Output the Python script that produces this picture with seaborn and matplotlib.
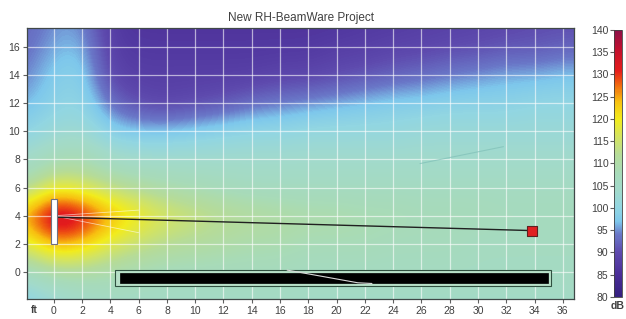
import numpy as np
import pandas as pd
import seaborn as sns
import matplotlib.pyplot as plt
from matplotlib.colors import LinearSegmentedColormap
from matplotlib.patches import Rectangle

# grid positions (ft)
x_ft = [-2, 0, 2, 4, 6, 8, 10, 12, 14, 16, 18, 20, 22, 24, 26, 28, 30, 32, 34, 36]
y_ft = [-2, 0, 2, 4, 6, 8, 10, 12, 14, 16, 18]

# SPL (dB), one row per y value
spl_y_m2 = [98, 102, 104, 105, 105, 105, 105, 105, 105, 105, 105, 105, 105, 105, 105, 105, 105, 105, 105, 105]
spl_y0 = [106, 110, 110, 109, 108, 107, 107, 107, 107, 107, 106, 106, 106, 106, 106, 106, 106, 106, 106, 106]
spl_y2 = [117, 125, 123, 117, 114, 112, 111, 110, 109, 109, 108, 108, 108, 107, 107, 107, 106, 106, 106, 106]
spl_y4 = [126, 139, 135, 126, 121, 117, 115, 113, 112, 111, 110, 110, 109, 109, 108, 108, 108, 107, 107, 107]
spl_y6 = [110, 118, 116, 113, 111, 109, 108, 107, 106, 106, 106, 106, 106, 106, 106, 106, 106, 106, 106, 106]
spl_y8 = [104, 108, 109, 105, 104, 104, 104, 104, 104, 104, 104, 104, 104, 104, 104, 104, 104, 104, 104, 104]
spl_y10 = [99, 102, 103, 98, 97, 97, 98, 99, 100, 100, 101, 101, 101, 101, 102, 102, 102, 102, 102, 102]
spl_y12 = [96, 99, 100, 93, 90, 89, 90, 91, 93, 94, 95, 96, 97, 98, 98, 99, 99, 99, 100, 100]
spl_y14 = [94, 98, 99, 89, 88, 88, 88, 88, 88, 89, 89, 90, 91, 92, 93, 94, 95, 96, 96, 97]
spl_y16 = [93, 96, 97, 88, 87, 87, 87, 87, 87, 87, 87, 88, 88, 89, 89, 90, 90, 91, 91, 92]
spl_y18 = [92, 95, 95, 87, 86, 86, 86, 86, 86, 86, 86, 86, 87, 87, 88, 88, 89, 89, 90, 90]

# colour scale of the legend bar
cbar_db = [80, 85, 90, 94, 97, 100, 104, 108, 112, 116, 120, 124, 128, 131, 136, 140]
cbar_colors = ["#35207f", "#4b2e98", "#5e4aae", "#6a78c8", "#7ec8ec", "#92d6e2",
               "#a2dacb", "#a8dbb8", "#b6dc98", "#d4e460", "#f2ec1c", "#f8c010",
               "#f06010", "#e41c1c", "#c01030", "#8c1048"]
cbar_ticks = [80, 85, 90, 95, 100, 105, 110, 115, 120, 125, 130, 135, 140]

# speaker -> mic aim line and mic position
aim_x = [0.2, 33.8]
aim_y = [3.9, 2.95]
mic_x = [33.8]
mic_y = [2.95]

x_ticks = list(range(0, 37, 2))
y_ticks = list(range(0, 17, 2))

sns.set_style("white")
plt.rcParams['font.family'] = ['Liberation Sans', 'DejaVu Sans']
txt = "#404040"

spl = np.array([spl_y_m2, spl_y0, spl_y2, spl_y4, spl_y6, spl_y8,
                spl_y10, spl_y12, spl_y14, spl_y16, spl_y18])

cmap = LinearSegmentedColormap.from_list(
    "beam", [((d - 80) / 60, c) for d, c in zip(cbar_db, cbar_colors)])

fig = plt.figure(figsize=(6.26, 3.19), dpi=100)
ax = fig.add_axes([0.0431, 0.0627, 0.874, 0.849])
cax = fig.add_axes([0.981, 0.069, 0.0128, 0.837])

im = ax.imshow(spl, origin="lower", cmap=cmap, vmin=80, vmax=140,
               extent=[x_ft[0] - 1, x_ft[-1] + 1, y_ft[0] - 1, y_ft[-1] + 1],
               interpolation="bicubic", aspect="auto", zorder=0)

# grid
for xv in x_ticks:
    ax.axvline(xv, color="white", lw=0.9, alpha=0.6, zorder=1)
for yv in y_ticks:
    ax.axhline(yv, color="white", lw=0.9, alpha=0.6, zorder=1)

# audience bar
ax.add_patch(Rectangle((4.3, -1.0), 30.9, 1.14, facecolor="#b8e0c8",
                       edgecolor="#305040", lw=0.8, zorder=2))
ax.add_patch(Rectangle((4.67, -0.78), 30.3, 0.71, facecolor="black",
                       edgecolor="black", lw=0.5, zorder=3))
ax.plot([16.5, 21.5, 22.5], [0.15, -0.75, -0.8], color="#d8d8d8", lw=0.8, zorder=4)

# faint rays
ax.plot([0, 6], [4, 4.4], color="white", lw=0.6, alpha=0.6, zorder=3)
ax.plot([0, 6], [4, 2.8], color="white", lw=0.6, alpha=0.6, zorder=3)
ax.plot([25.9, 31.8], [7.7, 8.9], color="#80c0b8", lw=0.8, alpha=0.7, zorder=3)

# aim line and mic
aim = pd.DataFrame({"x": aim_x, "y": aim_y})
sns.lineplot(data=aim, x="x", y="y", color="#202020", lw=1.0, ax=ax, zorder=4)
mic = pd.DataFrame({"x": mic_x, "y": mic_y})
sns.scatterplot(data=mic, x="x", y="y", marker="s", s=45, color="#e02020",
                edgecolor="#602020", linewidth=0.8, ax=ax, zorder=5)

# speaker
ax.add_patch(Rectangle((-0.2, 2.0), 0.4, 3.2, facecolor="white",
                       edgecolor="#707080", lw=0.8, zorder=6))

ax.set_xlim(-1.9, 36.8)
ax.set_ylim(-1.9, 17.3)
ax.set_xticks(x_ticks)
ax.set_yticks(y_ticks)
ax.set_xlabel("")
ax.set_ylabel("")
ax.tick_params(axis="both", length=3, width=0.8, color="#606060",
               labelsize=7.5, labelcolor=txt, pad=2, direction="out",
               left=True, bottom=True)
for s in ax.spines.values():
    s.set_color("#404848")
    s.set_linewidth(0.9)
ax.set_title("New RH-BeamWare Project", fontsize=8.5, color=txt, pad=5)
ax.text(-1.6, -2.35, "ft", fontsize=7.5, fontweight="bold", color=txt,
        va="top", ha="left")

cb = fig.colorbar(im, cax=cax, ticks=cbar_ticks)
cb.outline.set_edgecolor("#404040")
cb.outline.set_linewidth(0.6)
cax.yaxis.set_ticks_position("left")
cax.tick_params(length=3, width=0.8, color="#606060", labelsize=7.5,
                labelcolor=txt, pad=1)
cax.text(0.5, -0.015, "dB", transform=cax.transAxes, fontsize=7.5,
         fontweight="bold", color=txt, ha="center", va="top")

fig.savefig("out.png", dpi=100)
